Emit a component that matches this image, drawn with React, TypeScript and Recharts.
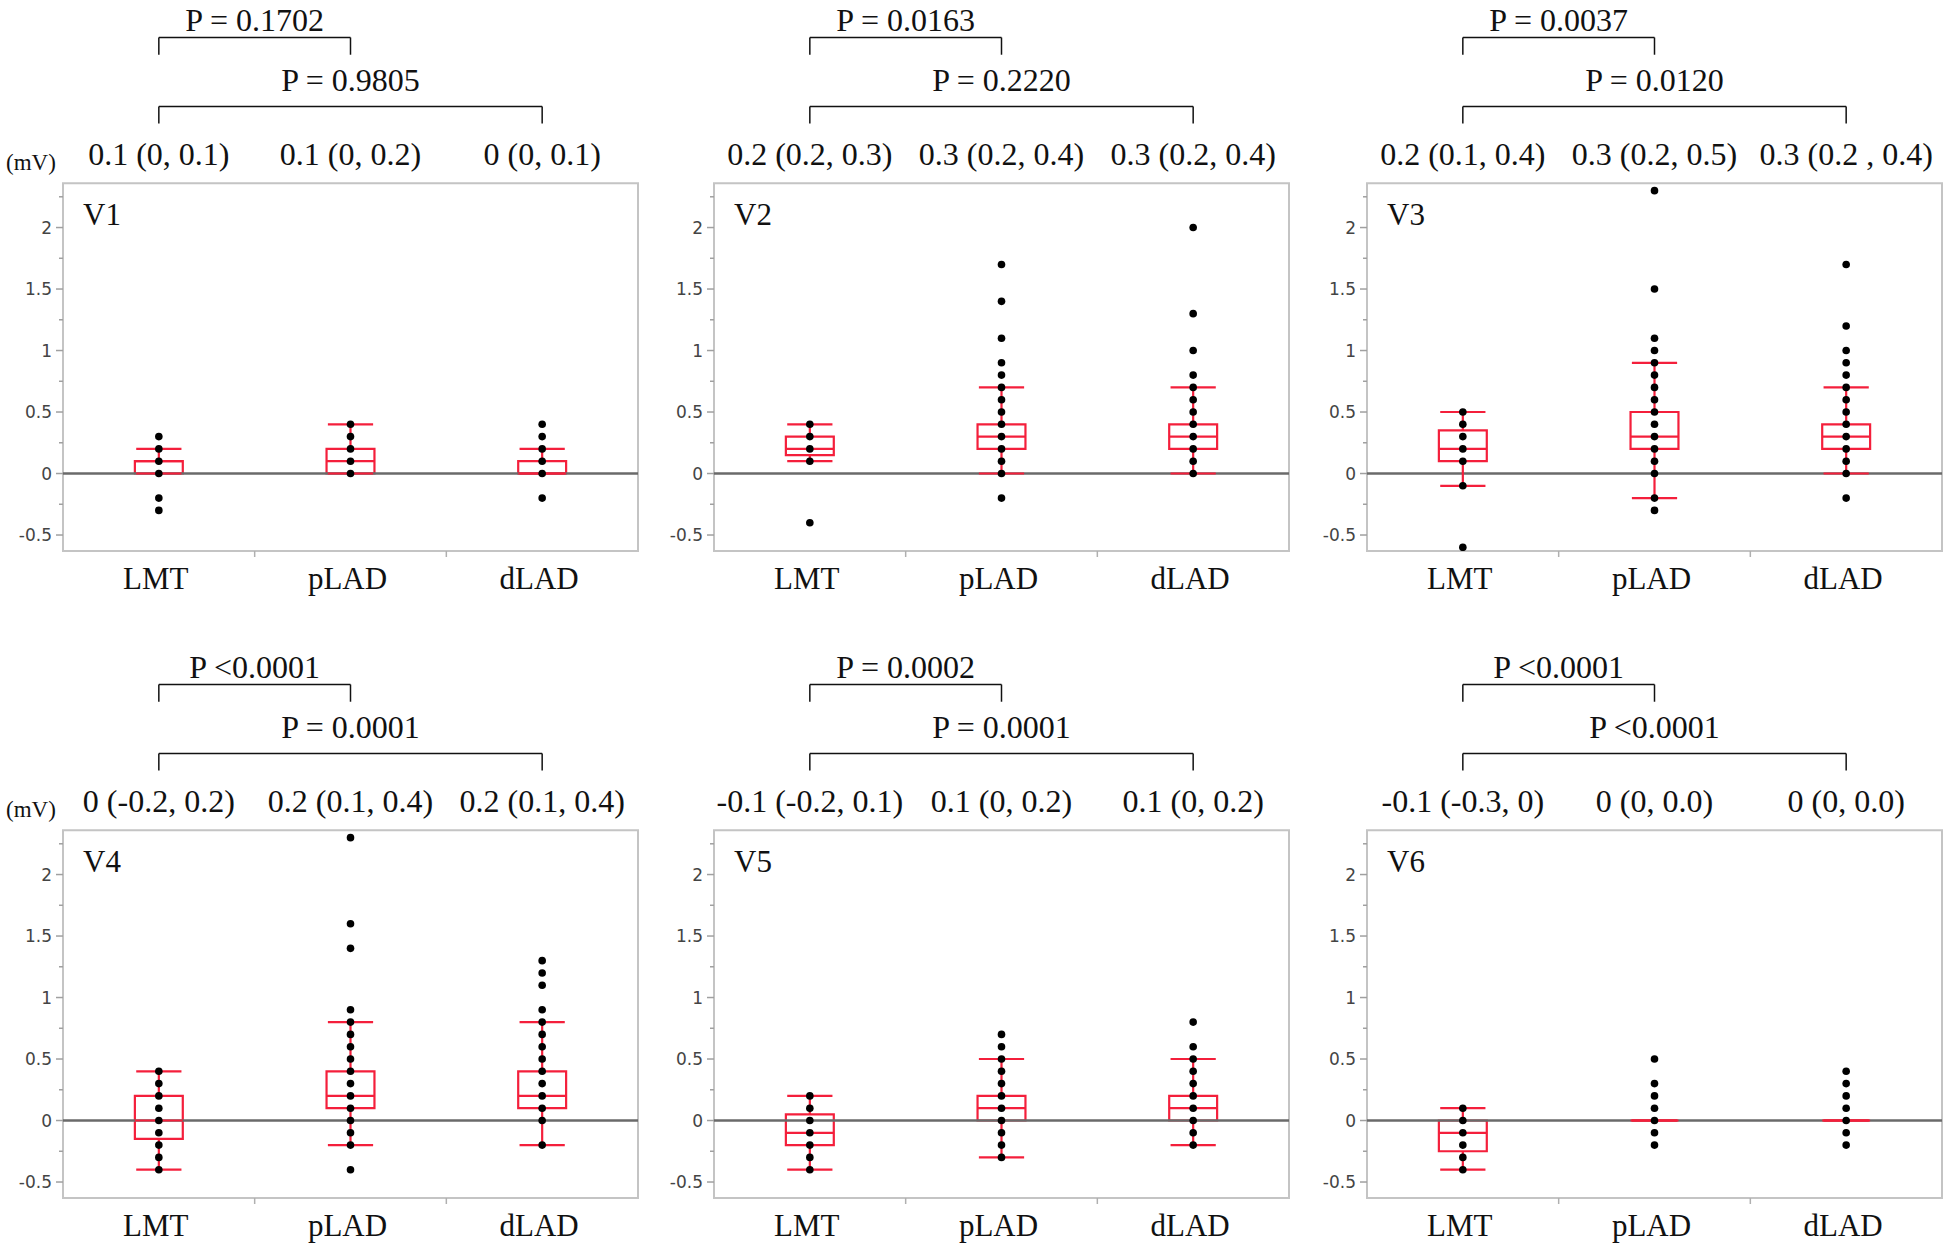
import React from 'react';
import {
  ComposedChart,
  XAxis,
  YAxis,
  Scatter,
  ReferenceArea,
  ReferenceLine,
  ReferenceDot,
} from 'recharts';

const categories = ['LMT', 'pLAD', 'dLAD'];
const xTicks = [0, 0.5, 1, 1.5, 2];
const yTicks = [-0.5, -0.25, 0, 0.25, 0.5, 0.75, 1, 1.25, 1.5, 1.75, 2, 2.25];

// box stats per category: [lower whisker, q1, median, q3, upper whisker]
const v1Box = [[0, 0, 0.1, 0.1, 0.2], [0, 0, 0.1, 0.2, 0.4], [0, 0, 0, 0.1, 0.2]];
const v2Box = [[0.1, 0.15, 0.2, 0.3, 0.4], [0, 0.2, 0.3, 0.4, 0.7], [0, 0.2, 0.3, 0.4, 0.7]];
const v3Box = [[-0.1, 0.1, 0.2, 0.35, 0.5], [-0.2, 0.2, 0.3, 0.5, 0.9], [0, 0.2, 0.3, 0.4, 0.7]];
const v4Box = [[-0.4, -0.15, 0, 0.2, 0.4], [-0.2, 0.1, 0.2, 0.4, 0.8], [-0.2, 0.1, 0.2, 0.4, 0.8]];
const v5Box = [[-0.4, -0.2, -0.1, 0.05, 0.2], [-0.3, 0, 0.1, 0.2, 0.5], [-0.2, 0, 0.1, 0.2, 0.5]];
const v6Box = [[-0.4, -0.25, -0.1, 0, 0.1], [0, 0, 0, 0, 0], [0, 0, 0, 0, 0]];

// individual values (mV), same order as categories
const v1Dots = [
  [0.3, 0.2, 0.1, 0, -0.2, -0.3],
  [0.4, 0.3, 0.2, 0.1, 0],
  [0.4, 0.3, 0.2, 0.1, 0, -0.2],
];
const v2Dots = [
  [0.4, 0.3, 0.2, 0.1, -0.4],
  [1.7, 1.4, 1.1, 0.9, 0.8, 0.7, 0.6, 0.5, 0.4, 0.3, 0.2, 0.1, 0, -0.2],
  [2.0, 1.3, 1.0, 0.8, 0.7, 0.6, 0.5, 0.4, 0.3, 0.2, 0.1, 0],
];
const v3Dots = [
  [0.5, 0.4, 0.3, 0.2, 0.1, -0.1, -0.6],
  [2.3, 1.5, 1.1, 1.0, 0.9, 0.8, 0.7, 0.6, 0.5, 0.4, 0.3, 0.2, 0.1, 0, -0.2, -0.3],
  [1.7, 1.2, 1.0, 0.9, 0.8, 0.7, 0.6, 0.5, 0.4, 0.3, 0.2, 0.1, 0, -0.2],
];
const v4Dots = [
  [0.4, 0.3, 0.2, 0.1, 0, -0.1, -0.2, -0.3, -0.4],
  [2.3, 1.6, 1.4, 0.9, 0.8, 0.7, 0.6, 0.5, 0.4, 0.3, 0.2, 0.1, 0, -0.1, -0.2, -0.4],
  [1.3, 1.2, 1.1, 0.9, 0.8, 0.7, 0.6, 0.5, 0.4, 0.3, 0.2, 0.1, 0, -0.2],
];
const v5Dots = [
  [0.2, 0.1, 0, -0.1, -0.2, -0.3, -0.4],
  [0.7, 0.6, 0.5, 0.4, 0.3, 0.2, 0.1, 0, -0.1, -0.2, -0.3],
  [0.8, 0.6, 0.5, 0.4, 0.3, 0.2, 0.1, 0, -0.1, -0.2],
];
const v6Dots = [
  [0.1, 0, -0.1, -0.2, -0.3, -0.4],
  [0.5, 0.3, 0.2, 0.1, 0, -0.1, -0.2],
  [0.4, 0.3, 0.2, 0.1, 0, -0.1, -0.2],
];

// median (IQR) labels
const v1Medians = ['0.1 (0, 0.1)', '0.1 (0, 0.2)', '0 (0, 0.1)'];
const v2Medians = ['0.2 (0.2, 0.3)', '0.3 (0.2, 0.4)', '0.3 (0.2, 0.4)'];
const v3Medians = ['0.2 (0.1, 0.4)', '0.3 (0.2, 0.5)', '0.3 (0.2 , 0.4)'];
const v4Medians = ['0 (-0.2, 0.2)', '0.2 (0.1, 0.4)', '0.2 (0.1, 0.4)'];
const v5Medians = ['-0.1 (-0.2, 0.1)', '0.1 (0, 0.2)', '0.1 (0, 0.2)'];
const v6Medians = ['-0.1 (-0.3, 0)', '0 (0, 0.0)', '0 (0, 0.0)'];

// p values: [LMT vs pLAD, LMT vs dLAD]
const v1P = ['P = 0.1702', 'P = 0.9805'];
const v2P = ['P = 0.0163', 'P = 0.2220'];
const v3P = ['P = 0.0037', 'P = 0.0120'];
const v4P = ['P <0.0001', 'P = 0.0001'];
const v5P = ['P = 0.0002', 'P = 0.0001'];
const v6P = ['P <0.0001', 'P <0.0001'];

const leads = [
  { name: 'V1', box: v1Box, dots: v1Dots, medians: v1Medians, p: v1P },
  { name: 'V2', box: v2Box, dots: v2Dots, medians: v2Medians, p: v2P },
  { name: 'V3', box: v3Box, dots: v3Dots, medians: v3Medians, p: v3P },
  { name: 'V4', box: v4Box, dots: v4Dots, medians: v4Medians, p: v4P },
  { name: 'V5', box: v5Box, dots: v5Dots, medians: v5Medians, p: v5P },
  { name: 'V6', box: v6Box, dots: v6Dots, medians: v6Medians, p: v6P },
];

const SERIF = "'Liberation Serif', 'Times New Roman', serif";
const SANS = "'DejaVu Sans', sans-serif";
const RED = '#f41f3b';

const Y_MIN = -0.63;
const Y_MAX = 3.85;
const BOX_TOP = 2.36;
const BRACKET1 = 3.545;
const BRACKET2 = 2.985;
const TICK_LEN = 0.14;
const MEDIAN_ROW = 2.6;
const HALF_BOX = 0.125;
const HALF_CAP = 0.118;
const PAD_TOP = 12;

const colLeft = [0, 651, 1304];
const rowTop = [0, 647];

const YTick = (props: any) => {
  const { x, y, payload } = props;
  const v = payload.value;
  const major = Math.abs(v * 2 - Math.round(v * 2)) < 1e-6;
  return (
    <g>
      <line x1={x - (major ? 7 : 4)} x2={x} y1={y} y2={y} stroke="#a0a0a0" strokeWidth={1.5} />
      {major && (
        <text x={x - 11} y={y} textAnchor="end" dominantBaseline="central" fontSize={17} fontFamily={SANS} fill="#444">
          {String(v)}
        </text>
      )}
    </g>
  );
};

const XTick = (props: any) => {
  const { x, y, payload } = props;
  const v = payload.value;
  if (Number.isInteger(v)) {
    return (
      <text x={x - 3} y={y + 27} textAnchor="middle" dominantBaseline="central" fontSize={31} fontFamily={SERIF} fill="#111">
        {categories[v]}
      </text>
    );
  }
  return <line x1={x} x2={x} y1={y} y2={y + 6} stroke="#b0b0b0" strokeWidth={1.5} />;
};

const Dot = (props: any) => <circle cx={props.cx} cy={props.cy} r={3.8} fill="#000" />;

function Panel({ lead, left, top }: { lead: any; left: number; top: number }) {
  const points = lead.dots.flatMap((vals: number[], i: number) => vals.map((v) => ({ x: i, y: v })));
  const labelStyle = { fontSize: 32, fontFamily: SERIF, fill: '#111' };
  return (
    <div style={{ position: 'absolute', left, top: top - PAD_TOP }}>
      <ComposedChart width={640} height={612 + PAD_TOP} margin={{ top: PAD_TOP, right: 2, bottom: 0, left: 0 }}>
        <XAxis
          type="number"
          dataKey="x"
          domain={[-0.5, 2.5]}
          allowDataOverflow
          ticks={xTicks}
          interval={0}
          axisLine={false}
          tickLine={false}
          tickSize={0}
          tickMargin={0}
          height={61}
          tick={<XTick />}
        />
        <YAxis
          type="number"
          dataKey="y"
          domain={[Y_MIN, Y_MAX]}
          allowDataOverflow
          ticks={yTicks}
          interval={0}
          axisLine={false}
          tickLine={false}
          tickSize={0}
          tickMargin={0}
          width={63}
          tick={<YTick />}
        />
        <ReferenceArea
          x1={-0.5}
          x2={2.5}
          y1={Y_MIN}
          y2={BOX_TOP}
          fill="none"
          stroke="#c4c4c4"
          strokeWidth={2}
          ifOverflow="visible"
          label={{ value: lead.name, position: 'insideTopLeft', offset: 20, ...labelStyle, fontSize: 31 }}
        />
        <ReferenceLine y={0} stroke="#6a6a6a" strokeWidth={2.5} />
        {lead.box.map((s: number[], i: number) => {
          const [lo, q1, med, q3, hi] = s;
          return (
            <React.Fragment key={'b' + i}>
              <ReferenceArea x1={i - HALF_BOX} x2={i + HALF_BOX} y1={q1} y2={q3} fill="none" stroke={RED} strokeWidth={2.2} />
              <ReferenceLine segment={[{ x: i - HALF_BOX, y: med }, { x: i + HALF_BOX, y: med }]} stroke={RED} strokeWidth={2.2} />
              <ReferenceLine segment={[{ x: i, y: q3 }, { x: i, y: hi }]} stroke={RED} strokeWidth={2.2} />
              <ReferenceLine segment={[{ x: i, y: lo }, { x: i, y: q1 }]} stroke={RED} strokeWidth={2.2} />
              <ReferenceLine segment={[{ x: i - HALF_CAP, y: hi }, { x: i + HALF_CAP, y: hi }]} stroke={RED} strokeWidth={2.2} />
              <ReferenceLine segment={[{ x: i - HALF_CAP, y: lo }, { x: i + HALF_CAP, y: lo }]} stroke={RED} strokeWidth={2.2} />
            </React.Fragment>
          );
        })}
        <ReferenceLine
          segment={[{ x: 0, y: BRACKET1 }, { x: 1, y: BRACKET1 }]}
          stroke="#111"
          strokeWidth={1.5}
          label={{ value: lead.p[0], position: 'top', offset: 7, ...labelStyle }}
        />
        <ReferenceLine segment={[{ x: 0, y: BRACKET1 }, { x: 0, y: BRACKET1 - TICK_LEN }]} stroke="#111" strokeWidth={1.5} />
        <ReferenceLine segment={[{ x: 1, y: BRACKET1 }, { x: 1, y: BRACKET1 - TICK_LEN }]} stroke="#111" strokeWidth={1.5} />
        <ReferenceLine
          segment={[{ x: 0, y: BRACKET2 }, { x: 2, y: BRACKET2 }]}
          stroke="#111"
          strokeWidth={1.5}
          label={{ value: lead.p[1], position: 'top', offset: 15, ...labelStyle }}
        />
        <ReferenceLine segment={[{ x: 0, y: BRACKET2 }, { x: 0, y: BRACKET2 - TICK_LEN }]} stroke="#111" strokeWidth={1.5} />
        <ReferenceLine segment={[{ x: 2, y: BRACKET2 }, { x: 2, y: BRACKET2 - TICK_LEN }]} stroke="#111" strokeWidth={1.5} />
        {lead.medians.map((m: string, i: number) => (
          <ReferenceDot
            key={'m' + i}
            x={i}
            y={MEDIAN_ROW}
            r={0}
            fill="none"
            stroke="none"
            label={{ value: m, position: 'center', ...labelStyle }}
          />
        ))}
        <Scatter data={points} shape={<Dot />} isAnimationActive={false} />
      </ComposedChart>
    </div>
  );
}

export default function App() {
  return (
    <div style={{ position: 'absolute', left: 0, top: 0, width: 1946, height: 1246, background: '#fff', overflow: 'hidden' }}>
      {leads.map((lead, k) => (
        <Panel key={lead.name} lead={lead} left={colLeft[k % 3]} top={rowTop[Math.floor(k / 3)]} />
      ))}
      {rowTop.map((t) => (
        <div
          key={'mv' + t}
          style={{ position: 'absolute', left: 6, top: t + 150, fontFamily: SERIF, fontSize: 23, lineHeight: '26px', color: '#111' }}
        >
          (mV)
        </div>
      ))}
    </div>
  );
}
